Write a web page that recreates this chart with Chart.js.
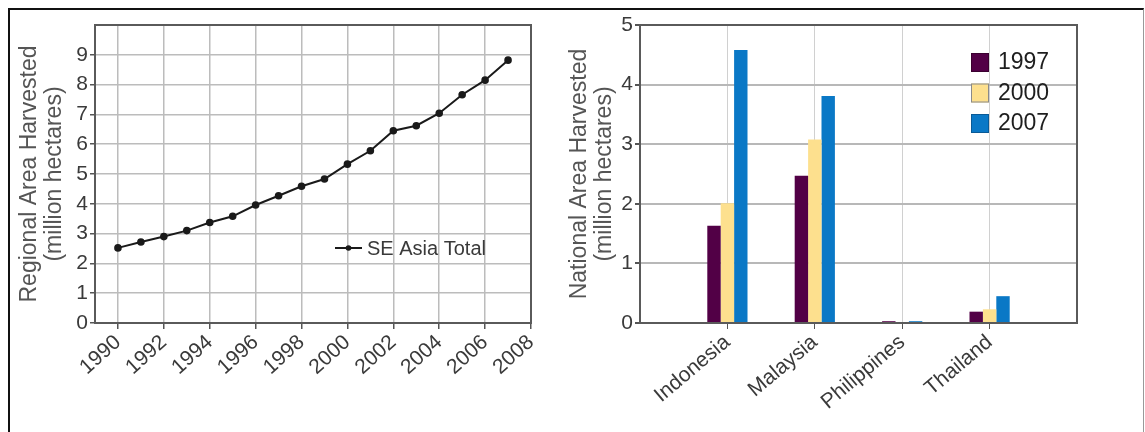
<!DOCTYPE html>
<html>
<head>
<meta charset="utf-8">
<script src="https://cdn.jsdelivr.net/npm/chart.js@4.4.1/dist/chart.umd.min.js"></script>
<style>
  html, body { margin: 0; padding: 0; background: #fff; overflow: hidden; }
  #frame { position: absolute; left: 8px; top: 8px; width: 1133px; height: 440px;
           border-left: 2px solid #111; border-top: 2px solid #111; border-right: 1px solid #999; }
  .box { position: absolute; top: 10px; height: 410px; }
  #leftBox { left: 10px; width: 550px; }
  #rightBox { left: 560px; width: 575px; }
</style>
</head>
<body>
<div id="frame"></div>
<div class="box" id="leftBox"><canvas id="regionChart"></canvas></div>
<div class="box" id="rightBox"><canvas id="nationChart"></canvas></div>
<script>
// regional total, million hectares
const years = [1990, 1991, 1992, 1993, 1994, 1995, 1996, 1997, 1998, 1999, 2000, 2001, 2002, 2003, 2004, 2005, 2006, 2007];
const seAsiaTotal = [2.52, 2.72, 2.90, 3.10, 3.37, 3.58, 3.96, 4.27, 4.59, 4.83, 5.33, 5.78, 6.45, 6.62, 7.04, 7.66, 8.15, 8.82];
const yearTicks = [1990, 1992, 1994, 1996, 1998, 2000, 2002, 2004, 2006, 2008];
const regionTicks = [0, 1, 2, 3, 4, 5, 6, 7, 8, 9, 10];

// national, million hectares
const countries = ['Indonesia', 'Malaysia', 'Philippines', 'Thailand'];
const area1997 = [1.63, 2.47, 0.03, 0.19];
const area2000 = [2.01, 3.08, 0.01, 0.23];
const area2007 = [4.58, 3.81, 0.03, 0.45];
const nationTicks = [0, 1, 2, 3, 4, 5];

const FONT = '"Liberation Sans", Arial, sans-serif';
const tickFont = { family: FONT, size: 21 };
const titleFont = { family: FONT, size: 23, lineHeight: 1.05 };
const NONE = 'rgba(0,0,0,0)';

// box round the plot area
const plotFrame = {
  id: 'plotFrame',
  afterDatasetsDraw(chart, args, opts) {
    const { ctx, chartArea: a } = chart;
    ctx.save();
    ctx.strokeStyle = opts.color; ctx.lineWidth = opts.width;
    ctx.strokeRect(a.left, a.top, a.right - a.left, a.bottom - a.top);
    ctx.restore();
  }
};

const lineLegend = {
  id: 'lineLegend',
  afterDraw(chart) {
    const { ctx, chartArea: a } = chart;
    const ds = chart.data.datasets[0];
    const x = a.left + 240, y = a.top + 223;
    ctx.save();
    ctx.strokeStyle = ds.borderColor; ctx.lineWidth = 2;
    ctx.beginPath(); ctx.moveTo(x, y); ctx.lineTo(x + 27, y); ctx.stroke();
    ctx.fillStyle = ds.borderColor;
    ctx.beginPath(); ctx.arc(x + 13.5, y, 2.8, 0, Math.PI * 2); ctx.fill();
    ctx.font = '20px ' + FONT; ctx.fillStyle = '#3a3a3a'; ctx.textBaseline = 'middle';
    ctx.fillText(ds.label, x + 32, y + 1);
    ctx.restore();
  }
};

const barLegend = {
  id: 'barLegend',
  afterDraw(chart) {
    const { ctx, chartArea: a } = chart;
    ctx.save();
    ctx.font = '23px ' + FONT; ctx.textBaseline = 'middle';
    chart.data.datasets.forEach((ds, i) => {
      const y = a.top + 37 + i * 30.5;
      ctx.fillStyle = ds.backgroundColor;
      ctx.fillRect(a.right - 106, y - 9, 18, 19);
      ctx.strokeStyle = ds.legendEdge; ctx.lineWidth = 1;
      ctx.strokeRect(a.right - 105.5, y - 8.5, 17, 18);
      ctx.fillStyle = '#1e1e1e';
      ctx.fillText(ds.label, a.right - 79, y + 1);
    });
    ctx.restore();
  }
};

new Chart(document.getElementById('regionChart'), {
  type: 'line',
  data: {
    datasets: [{
      label: 'SE Asia Total',
      data: years.map((y, i) => ({ x: y, y: seAsiaTotal[i] })),
      borderColor: '#1a1a1a', backgroundColor: '#1a1a1a',
      borderWidth: 2, pointRadius: 2.8, pointHoverRadius: 2.8, tension: 0
    }]
  },
  options: {
    responsive: true, maintainAspectRatio: false, animation: false,
    layout: { padding: { top: 15, right: 29, left: 0, bottom: 0 } },
    plugins: { legend: { display: false }, tooltip: { enabled: false },
               plotFrame: { color: '#5a5a5a', width: 2 } },
    scales: {
      x: {
        type: 'linear', min: 1989, max: 2008,
        afterBuildTicks: s => { s.ticks = yearTicks.map(v => ({ value: v })); },
        afterFit: s => { s.height = 97; },
        ticks: { font: tickFont, color: '#3a3a3a', minRotation: 42, maxRotation: 42, padding: 1,
                 callback: v => String(v) },
        grid: { color: '#bcbcbc', lineWidth: 1.5, tickColor: '#555', tickLength: 6 },
        border: { display: false }
      },
      y: {
        min: 0, max: 10,
        afterBuildTicks: s => { s.ticks = regionTicks.map(v => ({ value: v })); },
        afterFit: s => { s.width = 85; },
        ticks: { font: tickFont, color: '#3a3a3a', padding: 2,
                 callback: v => (v === 10 ? '' : String(v)) },
        grid: { color: '#bcbcbc', lineWidth: 1.5, tickLength: 5,
                tickColor: c => (c.tick && c.tick.value === 10 ? NONE : '#555') },
        border: { display: false },
        title: { display: true, text: ['Regional Area Harvested', '(million hectares)'],
                 font: titleFont, color: '#555', padding: { top: 8, bottom: 0 } }
      }
    }
  },
  plugins: [plotFrame, lineLegend]
});

const slots = ['', ...countries, ''];
const pad = arr => [null, ...arr, null];
const endSlot = c => c.index === 0 || c.index === slots.length - 1;

new Chart(document.getElementById('nationChart'), {
  type: 'bar',
  data: {
    labels: slots,
    datasets: [
      { label: '1997', data: pad(area1997), backgroundColor: '#520046', legendEdge: '#3a0030' },
      { label: '2000', data: pad(area2000), backgroundColor: '#fde08e', legendEdge: '#8a8a8a' },
      { label: '2007', data: pad(area2007), backgroundColor: '#0a78c6', legendEdge: '#0a5a96' }
    ]
  },
  options: {
    responsive: true, maintainAspectRatio: false, animation: false,
    layout: { padding: { top: 15, right: 58, left: 0, bottom: 0 } },
    datasets: { bar: { categoryPercentage: 0.46, barPercentage: 1.0, borderWidth: 0 } },
    plugins: { legend: { display: false }, tooltip: { enabled: false },
               plotFrame: { color: '#5a5a5a', width: 2 } },
    scales: {
      x: {
        offset: false,
        afterFit: s => { s.height = 97; },
        ticks: { font: tickFont, color: '#3a3a3a', minRotation: 40, maxRotation: 40, padding: 1,
                 autoSkip: false },
        grid: { offset: false, color: '#d0d0d0', lineWidth: 1,
                tickColor: c => (endSlot(c) ? NONE : '#555'), tickLength: 6 },
        border: { display: false }
      },
      y: {
        min: 0, max: 5,
        afterBuildTicks: s => { s.ticks = nationTicks.map(v => ({ value: v })); },
        afterFit: s => { s.width = 80; },
        ticks: { font: tickFont, color: '#3a3a3a', padding: 2 },
        grid: { color: '#b8b8b8', lineWidth: 2, tickColor: '#555', tickLength: 5 },
        border: { display: false },
        title: { display: true, text: ['National Area Harvested', '(million hectares)'],
                 font: titleFont, color: '#555', padding: { top: 8, bottom: 0 } }
      }
    }
  },
  plugins: [plotFrame, barLegend]
});
</script>
</body>
</html>
